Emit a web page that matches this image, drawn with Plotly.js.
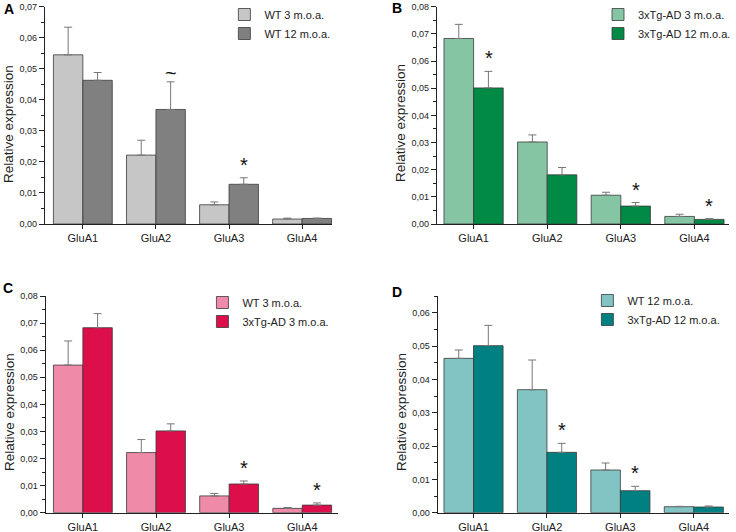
<!DOCTYPE html>
<html>
<head>
<meta charset="utf-8">
<script src="https://cdn.plot.ly/plotly-3.0.1.min.js"></script>
<style>
  html, body { margin: 0; padding: 0; background: #fff; }
  #plot { width: 736px; height: 532px; }
</style>
</head>
<body>
<div id="plot"></div>
<script>
var genes = ["GluA1", "GluA2", "GluA3", "GluA4"];

var wt3 = [0.0545, 0.0222, 0.0062, 0.0016];
var wt3Err = [0.0089, 0.0048, 0.0009, 0.0003];
var wt12 = [0.0463, 0.0369, 0.0128, 0.0018];
var wt12Err = [0.0025, 0.0089, 0.0021, 0.0001];
var tg3 = [0.0683, 0.0302, 0.0106, 0.0028];
var tg3Err = [0.0052, 0.0026, 0.0011, 0.0008];
var tg12 = [0.0501, 0.0181, 0.0066, 0.0017];
var tg12Err = [0.0061, 0.0027, 0.0013, 0.0003];

// significance marks: panel, gene, symbol (all on the second bar of the pair)
var sigPanel = ["A", "A", "B", "B", "B", "C", "C", "D", "D"];
var sigGene = ["GluA2", "GluA3", "GluA1", "GluA3", "GluA4", "GluA3", "GluA4", "GluA2", "GluA3"];
var sigMark = ["~", "*", "*", "*", "*", "*", "*", "*", "*"];

var font = "Arial, 'Liberation Sans', sans-serif";
var zeros = [0, 0, 0, 0];

function barTrace(name, y, err, color, ax, leg) {
  return {
    type: "bar",
    name: name,
    x: genes,
    y: y,
    xaxis: "x" + ax,
    yaxis: "y" + ax,
    legend: leg,
    marker: { color: color, line: { color: "#3a3a3a", width: 0.8 } },
    error_y: {
      type: "data", symmetric: false, array: err, arrayminus: zeros,
      color: "#777777", thickness: 1, width: 4
    }
  };
}

var data = [
  barTrace("WT 3 m.o.a.", wt3, wt3Err, "#c6c6c6", "", "legend"),
  barTrace("WT 12 m.o.a.", wt12, wt12Err, "#808080", "", "legend"),
  barTrace("3xTg-AD 3 m.o.a.", tg3, tg3Err, "#86c5a4", "2", "legend2"),
  barTrace("3xTg-AD 12 m.o.a.", tg12, tg12Err, "#008a45", "2", "legend2"),
  barTrace("WT 3 m.o.a.", wt3, wt3Err, "#ef8aa8", "3", "legend3"),
  barTrace("3xTg-AD 3 m.o.a.", tg3, tg3Err, "#dc0f4a", "3", "legend3"),
  barTrace("WT 12 m.o.a.", wt12, wt12Err, "#82c3c3", "4", "legend4"),
  barTrace("3xTg-AD 12 m.o.a.", tg12, tg12Err, "#008080", "4", "legend4")
];

function xAxis(domain, range, anchor) {
  return {
    domain: domain, range: range, anchor: anchor, type: "category",
    showline: true, linecolor: "#222", linewidth: 1,
    ticks: "outside", ticklen: 4, tickcolor: "#222",
    tickfont: { family: font, size: 11, color: "#222" },
    showgrid: false, zeroline: false, fixedrange: true
  };
}

function yAxis(domain, range, anchor) {
  return {
    domain: domain, range: range, anchor: anchor,
    dtick: 0.01, tickformat: ".2f",
    showline: true, linecolor: "#222", linewidth: 1,
    ticks: "outside", ticklen: 5, tickcolor: "#222",
    minor: { dtick: 0.005, ticks: "outside", ticklen: 3, tickcolor: "#222", showgrid: false },
    tickfont: { family: font, size: 9, color: "#222" },
    showgrid: false, zeroline: false, fixedrange: true
  };
}

function legendAt(x, y) {
  return {
    x: x, y: y, xanchor: "left", yanchor: "top",
    bgcolor: "rgba(0,0,0,0)", borderwidth: 0,
    font: { family: font, size: 11, color: "#222" },
    itemclick: false, itemdoubleclick: false
  };
}

var topDom = [0.5789, 0.9874];
var botDom = [0.0363, 0.4436];

var panelAxis = { A: "x", B: "x2", C: "x3", D: "x4" };
var panelY = { A: "y", B: "y2", C: "y3", D: "y4" };
var panelSeries = {
  A: [wt12, wt12Err], B: [tg12, tg12Err], C: [tg3, tg3Err], D: [tg12, tg12Err]
};

var annotations = [];
for (var i = 0; i < sigMark.length; i++) {
  var p = sigPanel[i];
  var k = genes.indexOf(sigGene[i]);
  var s = panelSeries[p];
  var tilde = sigMark[i] === "~";
  annotations.push({
    xref: panelAxis[p], yref: panelY[p],
    x: sigGene[i], y: s[0][k] + s[1][k],
    xshift: 15, yshift: tilde ? -4 : 0,
    yanchor: "bottom", showarrow: false,
    text: sigMark[i],
    font: { family: font, size: 20, color: "#111" }
  });
}

// panel letters
var letters = ["A", "B", "C", "D"];
var letterX = [9, 398, 8, 398];
var letterY = [9, 8, 288, 292];
for (var j = 0; j < letters.length; j++) {
  annotations.push({
    xref: "paper", yref: "paper",
    x: letterX[j] / 736, y: 1 - letterY[j] / 532,
    xanchor: "center", yanchor: "middle", showarrow: false,
    text: "<b>" + letters[j] + "</b>",
    font: { family: font, size: 14, color: "#000" }
  });
}

// y axis titles
var titleX = [9, 402, 9, 402];
var titleY = [124, 123, 412, 412];
for (var t = 0; t < 4; t++) {
  annotations.push({
    xref: "paper", yref: "paper",
    x: titleX[t] / 736, y: 1 - titleY[t] / 532,
    xanchor: "center", yanchor: "middle", showarrow: false,
    textangle: -90, text: "Relative expression",
    font: { family: font, size: 13.5, color: "#222" }
  });
}

var layout = {
  width: 736, height: 532, autosize: false,
  margin: { l: 0, r: 0, t: 0, b: 0 },
  paper_bgcolor: "#fff", plot_bgcolor: "rgba(0,0,0,0)",
  separators: ", ",
  barmode: "group", bargap: 0.195, bargroupgap: 0,
  font: { family: font, color: "#222" },
  xaxis: xAxis([0.0611, 0.4524], [-0.52, 3.41], "y"),
  yaxis: yAxis(topDom, [0, 0.07], "x"),
  xaxis2: xAxis([0.5951, 0.9932], [-0.5, 3.47], "y2"),
  yaxis2: yAxis(topDom, [0, 0.08], "x2"),
  xaxis3: xAxis([0.0621, 0.4606], [-0.51, 3.49], "y3"),
  yaxis3: yAxis(botDom, [0, 0.08], "x3"),
  xaxis4: xAxis([0.5961, 0.9928], [-0.49, 3.475], "y4"),
  yaxis4: yAxis(botDom, [0, 0.065], "x4"),
  legend: legendAt(225 / 736, 1),
  legend2: legendAt(600 / 736, 1),
  legend3: legendAt(203 / 736, 1 - 288 / 532),
  legend4: legendAt(589 / 736, 1 - 286 / 532),
  annotations: annotations,
  showlegend: true
};

Plotly.newPlot("plot", data, layout, { displayModeBar: false, staticPlot: true });
</script>
</body>
</html>
